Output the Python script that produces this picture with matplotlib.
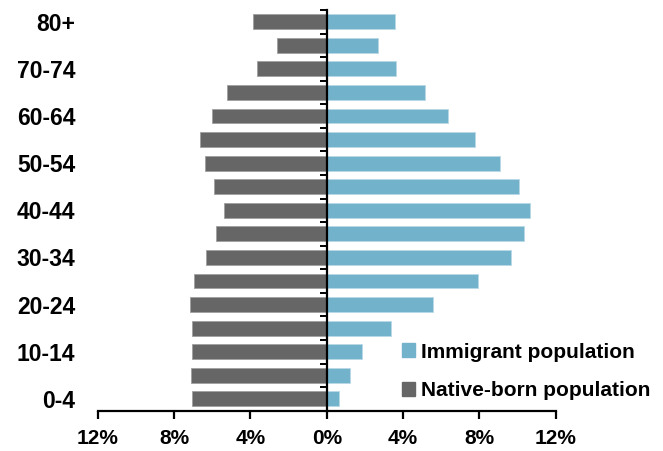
import matplotlib
matplotlib.use("Agg")
import matplotlib.pyplot as plt
import numpy as np
from matplotlib.patches import Patch
from matplotlib.ticker import FuncFormatter

plt.rcParams["font.family"] = ["Liberation Sans", "DejaVu Sans"]
plt.rcParams["font.weight"] = "bold"

# age groups, youngest first
age_groups = ["0-4", "5-9", "10-14", "15-19", "20-24", "25-29", "30-34", "35-39",
              "40-44", "45-49", "50-54", "55-59", "60-64", "65-69", "70-74", "75-79", "80+"]
# share of each population (%)
immigrant = [0.65, 1.22, 1.85, 3.35, 5.59, 7.95, 9.64, 10.34,
             10.64, 10.06, 9.08, 7.79, 6.36, 5.17, 3.65, 2.71, 3.56]
native_born = [7.08, 7.11, 7.08, 7.04, 7.16, 6.97, 6.31, 5.82,
               5.38, 5.92, 6.39, 6.66, 6.01, 5.24, 3.67, 2.58, 3.84]

x_ticks = [-12, -8, -4, 0, 4, 8, 12]

BLUE = "#72b2cb"
GRAY = "#666666"

fig = plt.figure(figsize=(6.63, 4.51), dpi=100)
ax = fig.add_axes([0.1474, 0.0894, 0.6908, 0.8885])

y = np.arange(len(age_groups))
ax.barh(y, immigrant, height=0.63, color=BLUE, edgecolor="#b9d9e6", linewidth=0.6)
ax.barh(y, [-v for v in native_born], height=0.63, color=GRAY, edgecolor="#a0a0a0", linewidth=0.6)

ax.set_xlim(-12, 12)
ax.set_ylim(-0.5, len(age_groups) - 0.5)

# spines
ax.spines["top"].set_visible(False)
ax.spines["right"].set_visible(False)
ax.spines["left"].set_position(("data", 0))
ax.spines["left"].set_linewidth(1.6)
ax.spines["bottom"].set_linewidth(1.6)

# x axis
ax.set_xticks(x_ticks)
ax.xaxis.set_major_formatter(FuncFormatter(lambda v, p: f"{abs(v):.0f}%"))
ax.tick_params(axis="x", direction="out", length=6, width=1.6, pad=7.5, labelsize=15)

# y axis: labels every other group, tick marks at group boundaries
ax.set_yticks(y[::2])
ax.set_yticklabels(age_groups[::2])
ax.set_yticks(np.arange(-0.5, len(age_groups), 1.0), minor=True)
ax.tick_params(axis="y", which="major", length=0, pad=181, labelsize=16.5)
ax.tick_params(axis="y", which="minor", direction="out", length=5, width=1.4)

handles = [Patch(color=BLUE, label="Immigrant population"),
           Patch(color=GRAY, label="Native-born population")]
ax.legend(handles=handles, loc="lower left", bbox_to_anchor=(0.646, 0.005),
          frameon=False, fontsize=15, handlelength=0.62, handleheight=0.62,
          handletextpad=0.3, labelspacing=0.95, borderaxespad=0)

fig.savefig("out.png", dpi=100)
